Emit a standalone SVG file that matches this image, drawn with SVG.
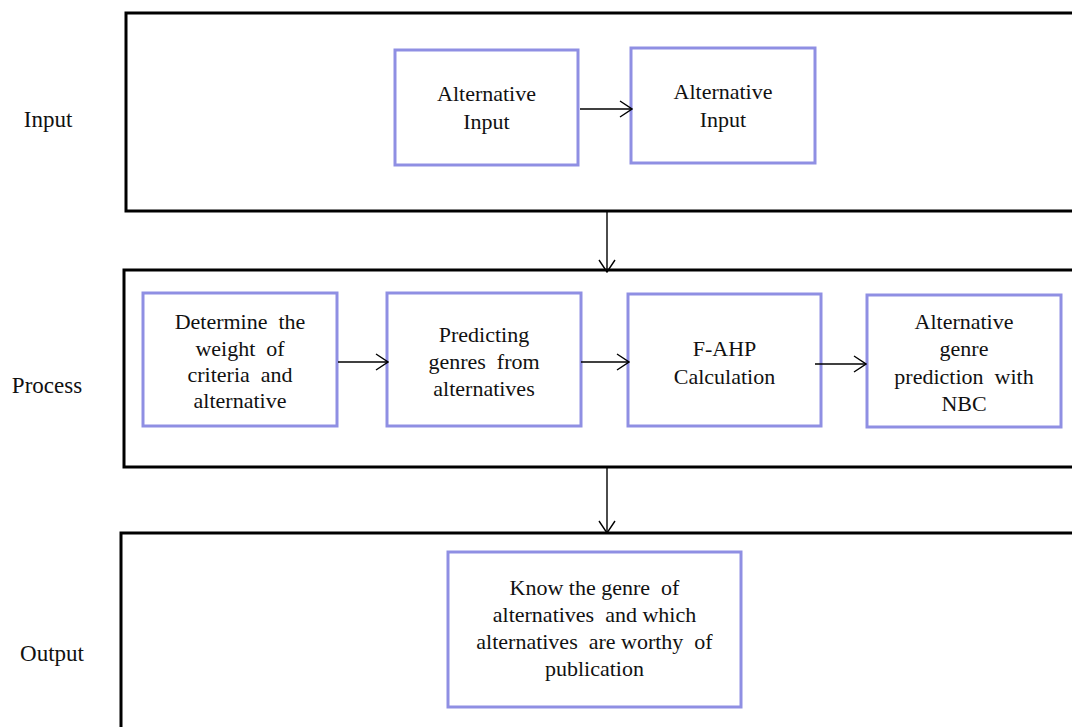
<svg xmlns="http://www.w3.org/2000/svg" width="1072" height="727" viewBox="0 0 1072 727" xml:space="preserve">
<style>
.frame{fill:none;stroke:#000;stroke-width:3}
.box{fill:#fff;stroke:#8f8fe3;stroke-width:3}
text{font-family:"Liberation Serif","Times New Roman",serif;font-size:22px;fill:#111;text-anchor:middle;white-space:pre}
.lbl{font-size:23px}
.conn{stroke:#000;stroke-width:1.4;fill:none}
</style>
<defs>
<marker id="arr" markerUnits="userSpaceOnUse" markerWidth="14" markerHeight="20" refX="13" refY="9" orient="auto">
<path d="M1,1 L13,9 L1,17" fill="none" stroke="#000" stroke-width="1.4"/>
</marker>
</defs>
<rect width="1072" height="727" fill="#fff"/>
<g id="section-input">
<rect class="frame" x="126" y="13" width="960" height="198"/>
<text class="lbl" x="48" y="127">Input</text>
</g>
<g id="section-process">
<rect class="frame" x="124" y="270" width="960" height="197"/>
<text class="lbl" x="47" y="393">Process</text>
</g>
<g id="section-output">
<rect class="frame" x="121" y="533" width="960" height="210"/>
<text class="lbl" x="52" y="661">Output</text>
</g>
<g id="node-alt-input-1">
<rect class="box" x="395" y="50" width="183" height="115"/>
<text x="486.5" y="101">Alternative</text>
<text x="486.5" y="129">Input</text>
</g>
<g id="node-alt-input-2">
<rect class="box" x="631" y="48" width="184" height="115"/>
<text x="723" y="99">Alternative</text>
<text x="723" y="127">Input</text>
</g>
<g id="node-weight">
<rect class="box" x="143" y="293" width="194" height="133"/>
<text x="240" y="329">Determine  the</text>
<text x="240" y="356">weight  of</text>
<text x="240" y="382">criteria  and</text>
<text x="240" y="408">alternative</text>
</g>
<g id="node-predict">
<rect class="box" x="387" y="293" width="194" height="133"/>
<text x="484" y="342">Predicting</text>
<text x="484" y="369">genres  from</text>
<text x="484" y="396">alternatives</text>
</g>
<g id="node-fahp">
<rect class="box" x="628" y="294" width="193" height="132"/>
<text x="724.5" y="356">F-AHP</text>
<text x="724.5" y="384">Calculation</text>
</g>
<g id="node-nbc">
<rect class="box" x="867" y="295" width="194" height="132"/>
<text x="964" y="329">Alternative</text>
<text x="964" y="356">genre</text>
<text x="964" y="384">prediction  with</text>
<text x="964" y="411">NBC</text>
</g>
<g id="node-output">
<rect class="box" x="448" y="552" width="293" height="155"/>
<text x="594.5" y="595">Know the genre  of</text>
<text x="594.5" y="622">alternatives  and which</text>
<text x="594.5" y="649">alternatives  are worthy  of</text>
<text x="594.5" y="676">publication</text>
</g>
<g id="connectors">
<line class="conn" x1="580" y1="109" x2="632" y2="109" marker-end="url(#arr)"/>
<line class="conn" x1="607" y1="211" x2="607" y2="272" marker-end="url(#arr)"/>
<line class="conn" x1="338" y1="362" x2="388" y2="362" marker-end="url(#arr)"/>
<line class="conn" x1="581" y1="362" x2="629" y2="362" marker-end="url(#arr)"/>
<line class="conn" x1="815" y1="364" x2="866" y2="364" marker-end="url(#arr)"/>
<line class="conn" x1="607" y1="467" x2="607" y2="533" marker-end="url(#arr)"/>
</g>
</svg>
